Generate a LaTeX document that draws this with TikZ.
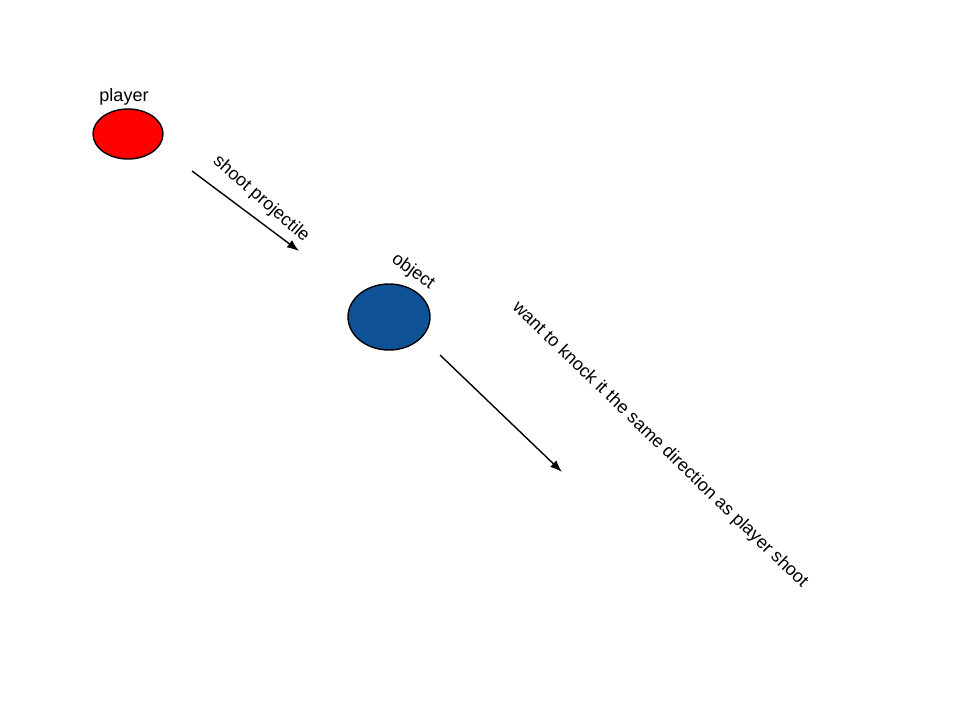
\documentclass[tikz,border=0pt]{standalone}
\usepackage{fontspec}
\setmainfont{Liberation Sans}
\usetikzlibrary{arrows.meta,shapes.geometric}
\definecolor{objblue}{RGB}{15,83,150}
\begin{document}
\begin{tikzpicture}[x=1pt,y=-1pt,
  blob/.style={ellipse,draw=black,line width=1.4pt,inner sep=0pt},
  lbl/.style={font=\fontsize{18}{21}\selectfont,inner sep=0pt},
  conn/.style={-{Latex[length=12pt,width=9pt]},line width=1.4pt}]
\useasboundingbox (0,0) rectangle (960,720);
\node[blob,fill=red,minimum width=70pt,minimum height=50pt] (player) at (128,134) {};
\node[lbl] (playerlbl) at (124,97) {player};
\node[blob,fill=objblue,minimum width=82pt,minimum height=66pt] (object) at (389,317) {};
\node[lbl,rotate=-36] (objlbl) at (413,272) {object};
\coordinate (a1s) at (192,171);
\coordinate (a1e) at (299,251);
\draw[conn] (a1s) -- (a1e);
\node[lbl,rotate=-41] (shootlbl) at (261,199) {shoot projectile};
\coordinate (a2s) at (440,355);
\coordinate (a2e) at (562,472);
\draw[conn] (a2s) -- (a2e);
\node[lbl,rotate=-44] (wantlbl) at (660,445) {want to knock it the same direction as player shoot};
\end{tikzpicture}
\end{document}
